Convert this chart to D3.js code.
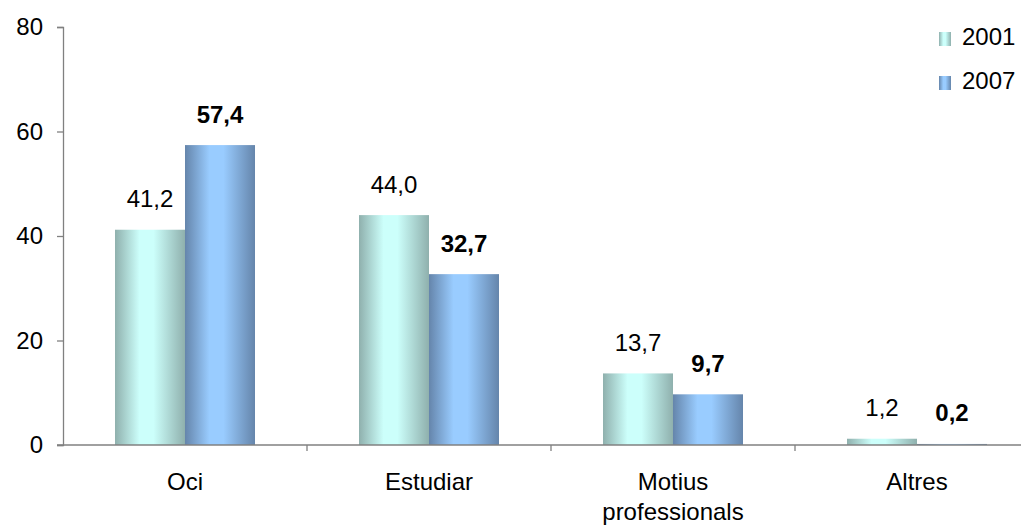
<!DOCTYPE html>
<html>
<head>
<meta charset="utf-8">
<script src="https://cdn.jsdelivr.net/npm/d3@7"></script>
<style>
  html, body { margin: 0; padding: 0; background: #fff; }
  svg { display: block; font-family: "Liberation Sans", Arial, sans-serif; }
</style>
</head>
<body>
<svg id="chart" width="1021" height="528"></svg>
<script>
// Motius de viatge (%), 2001 vs 2007
const categories = ["Oci", "Estudiar", "Motius professionals", "Altres"];
const series = ["2001", "2007"];
const values2001 = [41.2, 44.0, 13.7, 1.2];
const values2007 = [57.4, 32.7, 9.7, 0.2];
const yTicks = [0, 20, 40, 60, 80];

const FS = 24;
const svg = d3.select("#chart");
const margin = { left: 63, top: 27, bottom: 83 };
const plotRight = 1039;
const H = 528;

const x = d3.scaleBand().domain(categories).range([margin.left, plotRight]).paddingInner(0).paddingOuter(0);
const y = d3.scaleLinear().domain([0, 80]).range([H - margin.bottom, margin.top]);
const xs = d3.scaleBand().domain(series).range([52, x.bandwidth() - 52]);

// Horizontal cylinder-like gradients for each series
const defs = svg.append("defs");
function grad(id, edge, mid) {
  const g = defs.append("linearGradient").attr("id", id).attr("x1", "0").attr("x2", "1").attr("y1", "0").attr("y2", "0");
  g.append("stop").attr("offset", "0%").attr("stop-color", edge);
  g.append("stop").attr("offset", "35%").attr("stop-color", mid);
  g.append("stop").attr("offset", "55%").attr("stop-color", mid);
  g.append("stop").attr("offset", "100%").attr("stop-color", edge);
}
grad("g2001", "#8fb0ad", "#ccfffb");
grad("g2007", "#6585ab", "#99ccff");

const data = categories.map((c, i) => ({ c, v: [values2001[i], values2007[i]] }));

// Bars
const groups = svg.append("g").selectAll("g").data(data).join("g")
  .attr("transform", d => `translate(${x(d.c)},0)`);

groups.selectAll("rect").data(d => d.v.map((v, k) => ({ s: series[k], v })))
  .join("rect")
  .attr("x", d => xs(d.s))
  .attr("width", xs.bandwidth())
  .attr("y", d => y(d.v))
  .attr("height", d => y(0) - y(d.v))
  .attr("fill", d => `url(#g${d.s})`);

// Value labels
const fmt = v => v.toFixed(1).replace(".", ",");
groups.selectAll("text").data(d => d.v.map((v, k) => ({ s: series[k], v })))
  .join("text")
  .attr("x", d => xs(d.s) + xs.bandwidth() / 2)
  .attr("y", d => y(d.v) - 22.5)
  .attr("text-anchor", "middle")
  .attr("font-size", FS)
  .attr("font-weight", d => d.s === "2007" ? "bold" : "normal")
  .attr("fill", "#000")
  .text(d => fmt(d.v));

// Y axis
const yAxis = svg.append("g")
  .attr("transform", `translate(${margin.left},0)`)
  .call(d3.axisLeft(y).tickValues(yTicks).tickSize(6).tickPadding(14));
yAxis.select(".domain").attr("stroke", "#808080").attr("stroke-width", 1.3);
yAxis.selectAll(".tick line").attr("stroke", "#808080").attr("stroke-width", 1.3);
yAxis.selectAll(".tick text").attr("font-size", FS).attr("fill", "#000")
  .attr("font-family", "Liberation Sans, Arial, sans-serif");

// X axis
const xAxis = svg.append("g")
  .attr("transform", `translate(0,${y(0)})`)
  .call(d3.axisBottom(x).tickSize(0).tickPadding(0));
xAxis.select(".domain").attr("stroke", "#808080").attr("stroke-width", 1.3)
  .attr("d", `M${margin.left - 6},0H${plotRight}`);
xAxis.selectAll(".tick text").remove();

// Category separators
svg.append("g").selectAll("line").data(categories.slice(1))
  .join("line")
  .attr("x1", d => x(d)).attr("x2", d => x(d))
  .attr("y1", y(0)).attr("y2", y(0) + 6)
  .attr("stroke", "#808080").attr("stroke-width", 1.3);

// Category labels (wrapped)
const catLines = { "Motius professionals": ["Motius", "professionals"] };
svg.append("g").selectAll("text").data(categories).join("text")
  .attr("x", d => x(d) + x.bandwidth() / 2)
  .attr("y", y(0) + 45)
  .attr("text-anchor", "middle")
  .attr("font-size", FS)
  .attr("fill", "#000")
  .each(function (d) {
    const lines = catLines[d] || [d];
    d3.select(this).selectAll("tspan").data(lines).join("tspan")
      .attr("x", x(d) + x.bandwidth() / 2)
      .attr("dy", (l, i) => i === 0 ? 0 : 30)
      .text(l => l);
  });

// Legend
const legend = svg.append("g").selectAll("g").data(series).join("g")
  .attr("transform", (d, i) => `translate(939,${32 + i * 44})`);
legend.append("rect").attr("width", 12).attr("height", 14).attr("fill", d => `url(#g${d})`);
legend.append("text").attr("x", 23).attr("y", 12.5).attr("font-size", FS).attr("fill", "#000").text(d => d);
</script>
</body>
</html>
